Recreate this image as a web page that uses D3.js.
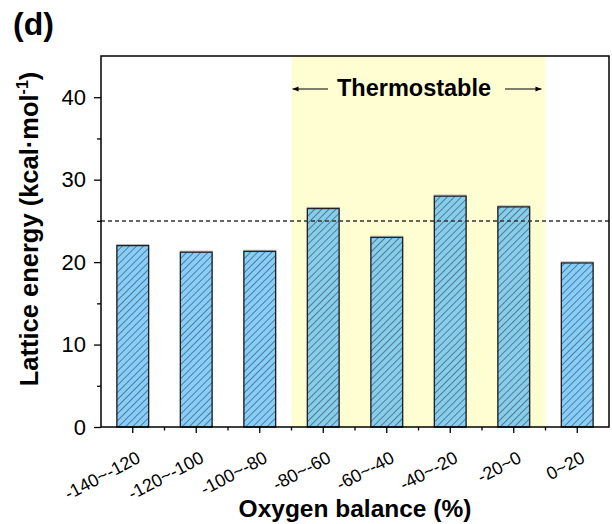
<!DOCTYPE html>
<html><head><meta charset="utf-8">
<script src="https://cdn.jsdelivr.net/npm/d3@7"></script>
<style>body{margin:0;background:#fff}svg{display:block}text{font-family:"Liberation Sans",Arial,sans-serif}</style>
</head><body><svg id="c" width="612" height="524"></svg>
<script>
const categories = ["-140~-120","-120~-100","-100~-80","-80~-60","-60~-40","-40~-20","-20~0","0~20"];
const values = [22.0, 21.2, 21.3, 26.5, 23.0, 28.0, 26.7, 19.9];
const yTicks = [0,10,20,30,40];
const yMinorTicks = [5,15,25,35];
const threshold = 25;
const thermoRange = ["-80~-60","-20~0"];

const svg = d3.select("#c");
const L=101, R=609, T=56, B=427;
const x = d3.scaleBand().domain(categories).range([L,R]).paddingInner(0.5).paddingOuter(0.25);
const xb = d3.scaleBand().domain(categories).range([L,R]);
const y = d3.scaleLinear().domain([0,45]).range([B,T]);

const defs = svg.append("defs");
const pat = defs.append("pattern").attr("id","hatch").attr("patternUnits","userSpaceOnUse")
  .attr("width",5).attr("height",5).attr("patternTransform","rotate(45)");
pat.append("line").attr("x1",0).attr("y1",0).attr("x2",0).attr("y2",5).attr("stroke","#22323c").attr("stroke-width",1.05);

// shaded region
svg.append("rect").attr("x",xb(thermoRange[0])).attr("y",T)
  .attr("width",xb(thermoRange[1])+xb.bandwidth()-xb(thermoRange[0])).attr("height",B-T)
  .attr("fill","#fffdd2");

// bars
const g = svg.append("g");
g.selectAll("rect.s").data(values).join("rect").attr("class","s")
  .attr("x",(d,i)=>x(categories[i])).attr("y",d=>y(d)-1)
  .attr("width",x.bandwidth()).attr("height",d=>B-y(d)+1)
  .attr("fill","none").attr("stroke","#bbb").attr("stroke-width",1.3);
g.selectAll("rect.b").data(values).join("rect").attr("class","b")
  .attr("x",(d,i)=>x(categories[i])).attr("y",d=>y(d))
  .attr("width",x.bandwidth()).attr("height",d=>B-y(d))
  .attr("fill","rgb(78,183,248)").attr("fill-opacity",0.68);
g.selectAll("rect.h").data(values).join("rect").attr("class","h")
  .attr("x",(d,i)=>x(categories[i])).attr("y",d=>y(d))
  .attr("width",x.bandwidth()).attr("height",d=>B-y(d))
  .attr("fill","url(#hatch)").attr("stroke","#222").attr("stroke-width",1.3);

// dashed threshold
svg.append("line").attr("x1",L).attr("x2",R).attr("y1",y(threshold)).attr("y2",y(threshold))
  .attr("stroke","#333").attr("stroke-width",1.5).attr("stroke-dasharray","4,3");

// frame
svg.append("rect").attr("x",L).attr("y",T).attr("width",R-L).attr("height",B-T)
  .attr("fill","none").attr("stroke","#000").attr("stroke-width",1.5);

// y axis
const ya = svg.append("g").attr("transform",`translate(${L},0)`)
  .call(d3.axisLeft(y).tickValues(yTicks).tickSize(7).tickPadding(8));
ya.select(".domain").remove();
ya.selectAll("text").attr("font-size",22).attr("fill","#000").style("font-family","Liberation Sans, Arial");
ya.selectAll("line").attr("stroke-width",1.3);
const ym = svg.append("g").attr("transform",`translate(${L},0)`)
  .call(d3.axisLeft(y).tickValues(yMinorTicks).tickSize(4).tickFormat(""));
ym.select(".domain").remove();
ym.selectAll("line").attr("stroke-width",1.3);

// x axis
const xa = svg.append("g").attr("transform",`translate(0,${B})`)
  .call(d3.axisBottom(xb).tickSize(6).tickFormat(""));
xa.select(".domain").remove();
xa.selectAll("line").attr("stroke-width",1.3);
const bounds = categories.slice(1).map(c=>xb(c));
svg.append("g").selectAll("line").data(bounds).join("line")
  .attr("x1",d=>d).attr("x2",d=>d).attr("y1",B).attr("y2",B+3.5)
  .attr("stroke","#000").attr("stroke-width",1.3);
svg.append("g").selectAll("text").data(categories).join("text")
  .attr("transform",d=>`translate(${xb(d)+xb.bandwidth()/2+6},${B+29}) rotate(-28)`)
  .attr("text-anchor","end").attr("dy","0.35em")
  .attr("font-size",18).text(d=>d);

// axis titles
svg.append("text").attr("x",355).attr("y",517).attr("text-anchor","middle")
  .attr("font-size",24.5).attr("font-weight","bold").text("Oxygen balance (%)");
const yl = svg.append("text").attr("transform",`translate(38,229) rotate(-90)`)
  .attr("text-anchor","middle").attr("font-size",25.5).attr("font-weight","bold");
yl.append("tspan").text("Lattice energy (kcal·mol");
yl.append("tspan").attr("font-size",16).attr("dy",-10).text("-1");
yl.append("tspan").attr("dy",10).text(")");

// title
svg.append("text").attr("x",13).attr("y",35).attr("font-size",32).attr("font-weight","bold").text("(d)");

// Thermostable annotation
const ay = 89;
const ann = svg.append("g");
defs.append("marker").attr("id","ah").attr("viewBox","0 0 10 10").attr("refX",10).attr("refY",5)
  .attr("markerWidth",7).attr("markerHeight",5).attr("orient","auto-start-reverse")
  .append("path").attr("d","M0,1 L10,5 L0,9 z").attr("fill","#000");
const x0 = xb(thermoRange[0]), x1 = xb(thermoRange[1])+xb.bandwidth();
ann.append("line").attr("x1",328).attr("x2",x0+1).attr("y1",ay).attr("y2",ay)
  .attr("stroke","#000").attr("stroke-width",1.2).attr("marker-end","url(#ah)");
ann.append("line").attr("x1",505).attr("x2",x1-4).attr("y1",ay).attr("y2",ay)
  .attr("stroke","#000").attr("stroke-width",1.2).attr("marker-end","url(#ah)");
ann.append("text").attr("x",414).attr("y",96).attr("text-anchor","middle")
  .attr("font-size",23.5).attr("font-weight","bold").text("Thermostable");
</script></body></html>
